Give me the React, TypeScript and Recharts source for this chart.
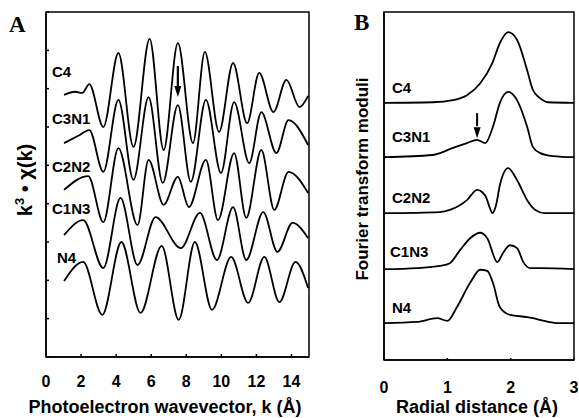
import { LineChart, Line, XAxis, YAxis, ReferenceArea, ReferenceLine, ReferenceDot } from "recharts"

type Pt = [number, number]

// panel A: k (1/Å) vs stacked k^3·chi(k), arbitrary units
const kTicks = [0, 2, 4, 6, 8, 10, 12, 14]
const stackTicks = [0, 1, 2, 3, 4, 5, 6, 7, 8, 9]

const exafsC4: Pt[] = [
  [1.03, 6.84], [1.66, 6.92], [2.07, 6.89], [2.47, 7.12], [3.27, 6.0], [4.13, 7.93], [4.99, 5.48],
  [5.91, 8.3], [6.71, 5.4], [7.52, 8.19], [8.38, 5.58], [9.06, 7.96], [9.87, 5.87], [10.67, 7.67],
  [11.47, 6.1], [12.16, 7.41], [12.97, 6.39], [13.71, 7.23], [14.46, 6.52], [14.95, 6.81],
]
const exafsC3N1: Pt[] = [
  [1.03, 5.58], [1.84, 5.77], [2.47, 5.92], [3.27, 4.83], [4.13, 6.71], [4.99, 4.62], [5.85, 6.78],
  [6.66, 4.54], [7.52, 6.57], [8.26, 4.57], [9.12, 6.71], [9.98, 4.8], [10.73, 6.65], [11.59, 5.06],
  [12.28, 6.39], [13.14, 5.32], [13.83, 6.18], [14.95, 5.53],
]
const exafsC2N2: Pt[] = [
  [1.03, 4.36], [2.41, 4.72], [3.27, 3.52], [4.13, 5.45], [5.22, 3.44], [5.85, 5.14], [6.71, 3.97],
  [7.52, 4.7], [8.15, 3.91], [9.12, 5.14], [9.81, 3.57], [10.73, 5.32], [11.42, 3.63], [12.28, 5.4],
  [13.02, 3.84], [13.83, 4.83], [14.95, 4.28],
]
const exafsC1N3: Pt[] = [
  [1.03, 3.18], [2.12, 3.57], [3.27, 2.32], [4.25, 4.15], [5.22, 2.4], [6.25, 3.65], [7.69, 2.84],
  [8.78, 3.76], [9.75, 2.53], [10.67, 3.91], [11.42, 2.53], [12.39, 3.78], [13.2, 2.74], [14.06, 3.5],
  [14.95, 3.1],
]
const exafsN4: Pt[] = [
  [1.03, 1.98], [2.12, 2.48], [3.21, 1.1], [4.3, 3.0], [5.39, 1.15], [6.6, 2.9], [7.57, 0.97],
  [8.49, 3.0], [9.47, 1.23], [10.56, 2.61], [11.53, 1.41], [12.45, 2.61], [13.31, 1.43], [14.23, 2.48],
  [14.95, 1.8],
]

// panel B: radial distance (Å) vs stacked FT modulus
const rTicks = [0, 1, 2, 3]

const ftC4: Pt[] = [
  [0, 4.73], [0.77, 4.74], [1.09, 4.78], [1.31, 4.87], [1.52, 5.09], [1.71, 5.46], [1.83, 5.83],
  [1.96, 6.03], [2.1, 5.89], [2.26, 5.33], [2.35, 4.97], [2.46, 4.82], [2.59, 4.74], [3, 4.73],
]
const ftC3N1: Pt[] = [
  [0, 3.73], [0.77, 3.77], [1.09, 3.9], [1.31, 3.99], [1.47, 4.05], [1.6, 3.99], [1.72, 4.29],
  [1.83, 4.73], [1.96, 4.93], [2.1, 4.78], [2.26, 4.29], [2.35, 3.92], [2.46, 3.81], [2.67, 3.75], [3, 3.73],
]
const ftC2N2: Pt[] = [
  [0, 2.7], [0.88, 2.72], [1.04, 2.76], [1.31, 2.94], [1.47, 3.13], [1.6, 3.02], [1.67, 2.8],
  [1.71, 2.7], [1.77, 2.85], [1.83, 3.22], [1.96, 3.53], [2.1, 3.31], [2.26, 2.94], [2.39, 2.76],
  [2.54, 2.7], [3, 2.7],
]
const ftC1N3: Pt[] = [
  [0, 1.67], [0.52, 1.69], [0.88, 1.73], [1.04, 1.78], [1.2, 2.02], [1.36, 2.24], [1.52, 2.34],
  [1.63, 2.24], [1.79, 1.8], [1.88, 1.97], [1.99, 2.11], [2.1, 2.06], [2.2, 1.8], [2.31, 1.69],
  [2.46, 1.69], [3, 1.67],
]
const ftN4: Pt[] = [
  [0, 0.68], [0.52, 0.7], [0.84, 0.77], [1.0, 0.72], [1.15, 0.97], [1.36, 1.42], [1.52, 1.66],
  [1.63, 1.64], [1.72, 1.42], [1.83, 0.97], [1.99, 0.83], [2.26, 0.79], [2.35, 0.77], [2.46, 0.74],
  [2.73, 0.68], [3, 0.68],
]

const exafsSeries = [exafsC4, exafsC3N1, exafsC2N2, exafsC1N3, exafsN4]
const ftSeries = [ftC4, ftC3N1, ftC2N2, ftC1N3, ftN4]

const SANS = '"Liberation Sans", Arial, Helvetica, sans-serif'
const SERIF = '"Liberation Serif", "Times New Roman", serif'

const rows = (pts: Pt[]) => pts.map(([x, v]) => ({ x, v }))

const tickStyle = { fill: "#000", fontSize: 16, fontWeight: 700, fontFamily: SANS }

const ArrowHead = (props: any) => {
  const { cx, cy } = props
  return <path d={`M${cx - 3.5},${cy - 11} L${cx + 3.5},${cy - 11} L${cx},${cy} Z`} fill="#000" />
}

const NoLabel = () => <g />

function PanelA() {
  return (
    <LineChart width={320} height={418} margin={{ top: 12, right: 11, bottom: 31, left: 0 }}>
      <XAxis
        type="number"
        dataKey="x"
        domain={[0, 15]}
        ticks={kTicks}
        interval={0}
        height={30}
        tickSize={-3}
        tickMargin={22}
        tick={tickStyle}
        stroke="#000"
        strokeWidth={1.5}
      />
      <YAxis
        type="number"
        domain={[0, 9]}
        ticks={stackTicks}
        interval={0}
        width={46}
        tick={NoLabel}
        tickSize={-3}
        stroke="#000"
        strokeWidth={1.5}
      />
      <ReferenceArea x1={0} x2={15} y1={0} y2={9} fill="none" stroke="#000" strokeWidth={1.5} />
      {exafsSeries.map((s, i) => (
        <Line
          key={i}
          data={rows(s)}
          dataKey="v"
          type="monotone"
          stroke="#000"
          strokeWidth={1.8}
          dot={false}
          isAnimationActive={false}
        />
      ))}
      <ReferenceLine segment={[{ x: 7.52, y: 7.59 }, { x: 7.52, y: 7.05 }]} stroke="#000" strokeWidth={2.2} />
      <ReferenceDot x={7.52} y={6.78} r={0} shape={ArrowHead} />
    </LineChart>
  )
}

function PanelB() {
  return (
    <LineChart width={249} height={418} margin={{ top: 12, right: 5, bottom: 28, left: 0 }}>
      <XAxis
        type="number"
        dataKey="x"
        domain={[0, 3]}
        ticks={rTicks}
        interval={0}
        height={30}
        tickSize={-2}
        tickMargin={24}
        tick={tickStyle}
        stroke="#000"
        strokeWidth={1.5}
      />
      <YAxis type="number" domain={[0, 6.4]} width={54} tick={false} tickLine={false} stroke="#000" strokeWidth={1.5} />
      <ReferenceArea x1={0} x2={3} y1={0} y2={6.4} fill="none" stroke="#000" strokeWidth={1.5} />
      {ftSeries.map((s, i) => (
        <Line
          key={i}
          data={rows(s)}
          dataKey="v"
          type="monotone"
          stroke="#000"
          strokeWidth={1.8}
          dot={false}
          isAnimationActive={false}
        />
      ))}
      <ReferenceLine segment={[{ x: 1.47, y: 4.54 }, { x: 1.47, y: 4.3 }]} stroke="#000" strokeWidth={2} />
      <ReferenceDot x={1.47} y={4.08} r={0} shape={ArrowHead} />
    </LineChart>
  )
}

export default function App() {
  const lbl = { fontFamily: SANS, fontWeight: 700, fontSize: 15, fill: "#000" }
  const axisLbl = { fontFamily: SANS, fontWeight: 700, fontSize: 18, fill: "#000" }
  return (
    <div style={{ position: "absolute", left: 0, top: 0, width: 579, height: 418, background: "#fff" }}>
      <div style={{ position: "absolute", left: 0, top: 0 }}>
        <PanelA />
      </div>
      <div style={{ position: "absolute", left: 330, top: 0 }}>
        <PanelB />
      </div>
      <svg width={579} height={418} style={{ position: "absolute", left: 0, top: 0, pointerEvents: "none" }}>
        <text x={9} y={32} style={{ fontFamily: SERIF, fontWeight: 700, fontSize: 23 }}>A</text>
        <text x={354} y={30} style={{ fontFamily: SERIF, fontWeight: 700, fontSize: 23 }}>B</text>

        <text x={52} y={77} style={lbl}>C4</text>
        <text x={52} y={124} style={lbl}>C3N1</text>
        <text x={52} y={172} style={lbl}>C2N2</text>
        <text x={52} y={214} style={lbl}>C1N3</text>
        <text x={57} y={263} style={lbl}>N4</text>

        <text x={392} y={93} style={lbl}>C4</text>
        <text x={392} y={142} style={lbl}>C3N1</text>
        <text x={392} y={203} style={lbl}>C2N2</text>
        <text x={390} y={257} style={lbl}>C1N3</text>
        <text x={392} y={313} style={lbl}>N4</text>

        <text x={32} y={180} transform="rotate(-90 32 180)" textAnchor="middle" style={{ ...axisLbl, fontSize: 20 }}>
          k<tspan dy={-8} fontSize={13}>3</tspan>
          <tspan dy={8}> • χ(k)</tspan>
        </text>
        <text x={368} y={179} transform="rotate(-90 368 179)" textAnchor="middle" style={{ ...axisLbl, fontSize: 17 }}>
          Fourier transform moduli
        </text>
        <text x={165} y={413} textAnchor="middle" style={axisLbl}>Photoelectron wavevector, k (Å)</text>
        <text x={477} y={413} textAnchor="middle" style={axisLbl}>Radial distance (Å)</text>
      </svg>
    </div>
  )
}
